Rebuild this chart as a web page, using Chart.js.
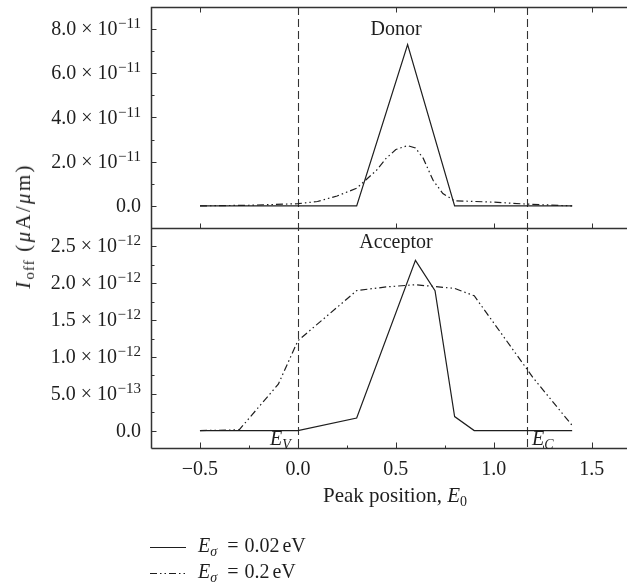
<!DOCTYPE html>
<html lang="en">
<head>
    <meta charset="UTF-8">
    <title>Off-state current vs trap peak position</title>
    <script src="https://cdn.jsdelivr.net/npm/chart.js"></script>
    <style>
        html, body {
            margin: 0;
            padding: 0;
            background: #fff;
            overflow: hidden;
        }
        #wrap {
            position: relative;
            width: 627px;
            height: 587px;
            font-family: "Liberation Serif", "Times New Roman", serif;
            color: #1e1e1e;
        }
        #plot {
            position: absolute;
            left: 0;
            top: 0;
        }
        .txt {
            position: absolute;
            white-space: nowrap;
            font-size: 20px;
            line-height: 20px;
        }
        .it { font-style: italic; }
        .sub { font-size: 14px; vertical-align: -4px; }
        .center { transform: translateX(-50%); }
        #xtitle { font-size: 21px; }
        #ytitle {
            left: 26px;
            top: 226px;
            font-size: 21px;
            transform: translate(-50%, -50%) rotate(-90deg);
            letter-spacing: 2.3px;
        }
        #ytitle .sub { font-size: 15px; letter-spacing: 1px; }
        .eq { margin: 0 6px 0 10px; }
        .unit { margin-left: 3px; }
    </style>
</head>
<body>
<div id="wrap">
    <canvas id="plot" width="627" height="587"></canvas>

    <div class="txt center" style="left:396px; top:18px;">Donor</div>
    <div class="txt center" style="left:396px; top:231px;">Acceptor</div>
    <div class="txt" style="left:270px; top:428px;"><span class="it">E</span><span class="sub it">V</span></div>
    <div class="txt" style="left:532px; top:428px;"><span class="it">E</span><span class="sub it">C</span></div>

    <div class="txt center" id="xtitle" style="left:395px; top:485px;">Peak position, <span class="it">E</span><span class="sub">0</span></div>
    <div class="txt" id="ytitle"><span class="it">I</span><span class="sub">off</span> (<span class="it">μ</span>A/<span class="it">μ</span>m)</div>

    <div class="txt" style="left:198px; top:535px;"><span class="it">E</span><span class="sub it">σ</span><span class="eq">=</span>0.02<span class="unit">eV</span></div>
    <div class="txt" style="left:198px; top:561px;"><span class="it">E</span><span class="sub it">σ</span><span class="eq">=</span>0.2<span class="unit">eV</span></div>
</div>

<script>
    // Peak position E0 (eV) and off-state current (uA/um), donor traps
    const donorNarrowE = [-0.5, 0.3, 0.56, 0.8, 1.4];
    const donorNarrowI = [0, 0, 7.3e-11, 0, 0];
    const donorWideE = [-0.5, -0.25, 0, 0.1, 0.2, 0.3, 0.4, 0.45, 0.5, 0.56, 0.6, 0.64, 0.69, 0.74, 0.8, 1.0, 1.17, 1.4];
    const donorWideI = [0, 0.03e-11, 0.1e-11, 0.2e-11, 0.45e-11, 0.8e-11, 1.6e-11, 2.15e-11, 2.55e-11, 2.73e-11, 2.62e-11, 2.15e-11, 1.16e-11, 0.56e-11, 0.23e-11, 0.17e-11, 0.08e-11, 0];

    // Acceptor traps
    const acceptorNarrowE = [-0.5, 0, 0.3, 0.6, 0.7, 0.8, 0.9, 1.4];
    const acceptorNarrowI = [0, 0, 0.17e-12, 2.31e-12, 1.9e-12, 0.19e-12, 0, 0];
    const acceptorWideE = [-0.5, -0.3, -0.1, 0, 0.3, 0.45, 0.6, 0.8, 0.9, 1.2, 1.4];
    const acceptorWideI = [0, 0.01e-12, 0.63e-12, 1.22e-12, 1.9e-12, 1.95e-12, 1.98e-12, 1.93e-12, 1.83e-12, 0.72e-12, 0.07e-12];

    // Valence and conduction band edges (eV)
    const bandEdges = [0, 1.17];

    // Axis ticks
    const energyTicks = [-0.5, 0, 0.5, 1.0, 1.5];
    const energyTickLabels = ['\u22120.5', '0.0', '0.5', '1.0', '1.5'];
    const energyMinor = [-0.25, 0.25, 0.75, 1.25];

    const donorTicks = [0, 2e-11, 4e-11, 6e-11, 8e-11];
    const donorTickBase = ['0.0', '2.0 \u00d7 10', '4.0 \u00d7 10', '6.0 \u00d7 10', '8.0 \u00d7 10'];
    const donorTickExp = ['', '\u221211', '\u221211', '\u221211', '\u221211'];
    const donorMinor = [1e-11, 3e-11, 5e-11, 7e-11];

    const acceptorTicks = [0, 0.5e-12, 1.0e-12, 1.5e-12, 2.0e-12, 2.5e-12];
    const acceptorTickBase = ['0.0', '5.0 \u00d7 10', '1.0 \u00d7 10', '1.5 \u00d7 10', '2.0 \u00d7 10', '2.5 \u00d7 10'];
    const acceptorTickExp = ['', '\u221213', '\u221212', '\u221212', '\u221212', '\u221212'];
    const acceptorMinor = [0.25e-12, 0.75e-12, 1.25e-12, 1.75e-12, 2.25e-12];

    const INK = '#1e1e1e';
    const DASH_DOT = [7, 3, 1.5, 3, 1.5, 3];
    const SERIF = '"Liberation Serif", "Times New Roman", serif';

    const toPoints = (xs, ys) => xs.map((x, i) => ({ x: x, y: ys[i] }));

    function series(xs, ys, axis, dash) {
        return {
            data: toPoints(xs, ys),
            yAxisID: axis,
            showLine: true,
            borderColor: INK,
            borderWidth: 1.2,
            borderDash: dash,
            pointRadius: 0,
            fill: false,
            tension: 0
        };
    }

    // Frame, ticks, band edges, tick labels and legend keys
    const decor = {
        id: 'decor',
        beforeDatasetsDraw(chart) {
            const { ctx, chartArea: a, scales } = chart;
            ctx.save();
            ctx.strokeStyle = '#333';
            ctx.lineWidth = 1.1;
            ctx.setLineDash([8, 4]);
            bandEdges.forEach(e => {
                const px = Math.round(scales.x.getPixelForValue(e)) + 0.5;
                ctx.beginPath();
                ctx.moveTo(px, a.top);
                ctx.lineTo(px, a.bottom);
                ctx.stroke();
            });
            ctx.restore();
        },
        afterDraw(chart) {
            const { ctx, chartArea: a, scales } = chart;
            const x = scales.x, yt = scales.yTop, yb = scales.yBot;
            const mid = Math.round(yt.getPixelForValue(-1e-11)) + 0.5;
            const L = Math.round(a.left) + 0.5;
            const T = Math.round(a.top) + 0.5;
            const B = Math.round(a.bottom) - 0.5;

            ctx.save();
            ctx.strokeStyle = '#333';
            ctx.lineWidth = 1.5;
            ctx.beginPath();
            ctx.moveTo(L, B); ctx.lineTo(L, T); ctx.lineTo(a.right, T);
            ctx.moveTo(L, mid); ctx.lineTo(a.right, mid);
            ctx.moveTo(L, B); ctx.lineTo(a.right, B);
            ctx.stroke();

            // tick marks, all pointing inwards
            ctx.lineWidth = 1;
            ctx.beginPath();
            energyTicks.forEach(v => {
                const px = Math.round(x.getPixelForValue(v)) + 0.5;
                ctx.moveTo(px, B); ctx.lineTo(px, B - 6);
                ctx.moveTo(px, T); ctx.lineTo(px, T + 5);
                ctx.moveTo(px, mid); ctx.lineTo(px, mid - 5);
            });
            energyMinor.forEach(v => {
                const px = Math.round(x.getPixelForValue(v)) + 0.5;
                ctx.moveTo(px, B); ctx.lineTo(px, B - 3);
            });
            donorTicks.forEach(v => {
                const py = Math.round(yt.getPixelForValue(v)) + 0.5;
                ctx.moveTo(L, py); ctx.lineTo(L + 5, py);
            });
            donorMinor.forEach(v => {
                const py = Math.round(yt.getPixelForValue(v)) + 0.5;
                ctx.moveTo(L, py); ctx.lineTo(L + 3, py);
            });
            acceptorTicks.forEach(v => {
                const py = Math.round(yb.getPixelForValue(v)) + 0.5;
                ctx.moveTo(L, py); ctx.lineTo(L + 5, py);
            });
            acceptorMinor.forEach(v => {
                const py = Math.round(yb.getPixelForValue(v)) + 0.5;
                ctx.moveTo(L, py); ctx.lineTo(L + 3, py);
            });
            ctx.stroke();

            // tick labels
            ctx.fillStyle = INK;
            ctx.textBaseline = 'alphabetic';
            ctx.font = '20px ' + SERIF;
            ctx.textAlign = 'center';
            energyTicks.forEach((v, i) => {
                ctx.fillText(energyTickLabels[i], x.getPixelForValue(v), a.bottom + 26);
            });

            const right = a.left - 10;
            function yLabel(scale, v, base, exp) {
                const py = scale.getPixelForValue(v);
                ctx.textAlign = 'right';
                let edge = right;
                if (exp) {
                    ctx.font = '15px ' + SERIF;
                    ctx.fillText(exp, edge, py - 1);
                    edge -= ctx.measureText(exp).width + 0.5;
                }
                ctx.font = '20px ' + SERIF;
                ctx.fillText(base, edge, py + 6);
            }
            donorTicks.forEach((v, i) => yLabel(yt, v, donorTickBase[i], donorTickExp[i]));
            acceptorTicks.forEach((v, i) => yLabel(yb, v, acceptorTickBase[i], acceptorTickExp[i]));

            // legend keys
            ctx.strokeStyle = INK;
            ctx.lineWidth = 1.2;
            [[], DASH_DOT].forEach((d, i) => {
                const py = 547 + i * 26 + 0.5;
                ctx.setLineDash(d);
                ctx.beginPath();
                ctx.moveTo(150, py); ctx.lineTo(186, py);
                ctx.stroke();
            });
            ctx.restore();
        }
    };

    new Chart(document.getElementById('plot'), {
        type: 'scatter',
        data: {
            datasets: [
                series(donorNarrowE, donorNarrowI, 'yTop', []),
                series(donorWideE, donorWideI, 'yTop', DASH_DOT),
                series(acceptorNarrowE, acceptorNarrowI, 'yBot', []),
                series(acceptorWideE, acceptorWideI, 'yBot', DASH_DOT)
            ]
        },
        options: {
            responsive: false,
            animation: false,
            layout: { padding: { left: 151, top: 7, right: 0, bottom: 138 } },
            plugins: {
                legend: { display: false },
                tooltip: { enabled: false }
            },
            scales: {
                x: { type: 'linear', min: -0.75, max: 1.68, display: false },
                // each panel covers half of the plot height
                yTop: { type: 'linear', min: -11e-11, max: 9e-11, display: false },
                yBot: { type: 'linear', min: -0.25e-12, max: 5.75e-12, display: false }
            }
        },
        plugins: [decor]
    });
</script>
</body>
</html>
